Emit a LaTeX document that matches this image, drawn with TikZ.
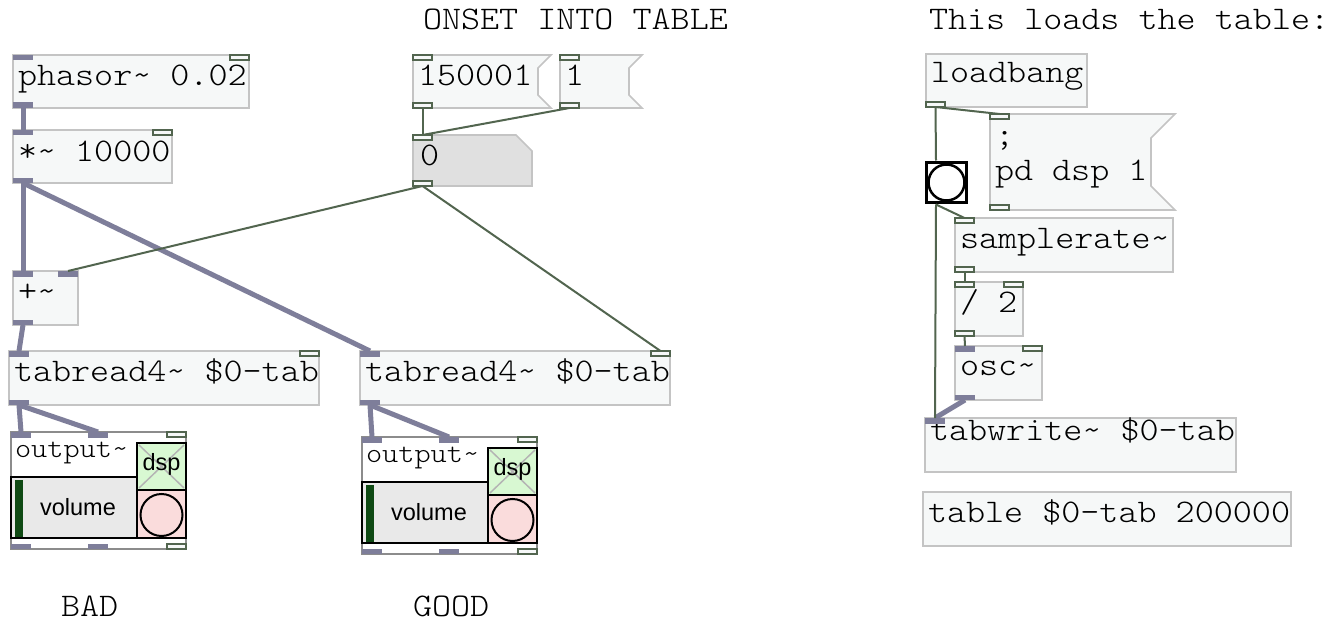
\documentclass[tikz,border=0pt]{standalone}
\usepackage{fontspec}
\setmainfont{Liberation Sans}
\newfontfamily\pdmono[FakeStretch=1.10]{Latin Modern Mono Light}
\newfontfamily\pdsans{Liberation Sans}
\newcommand\pdtxt{\pdmono\fontsize{33pt}{36pt}\selectfont}
\newcommand\pdsmall{\pdmono\fontsize{28pt}{30pt}\selectfont}
\newcommand\guitxt{\pdsans\fontsize{23.5pt}{26pt}\selectfont}
\newcommand\tld{\textasciitilde}

\definecolor{boxfill}{HTML}{F6F8F8}
\definecolor{boxline}{HTML}{C4C4C4}
\definecolor{sigc}{HTML}{7E7E9A}
\definecolor{ctlc}{HTML}{52654F}
\definecolor{numfill}{HTML}{E0E0E0}
\definecolor{dspgreen}{HTML}{D8F8D2}
\definecolor{dsppink}{HTML}{FADCDC}
\definecolor{volfill}{HTML}{E9E9E9}
\definecolor{volbar}{HTML}{0F4A14}
\definecolor{gopline}{HTML}{8C8C8C}
\definecolor{xline}{HTML}{B4B4B4}

% message box outline with the notched right edge
\newcommand\msgflag[2]{%
  \filldraw[msgline] (#1.north west) -- (#1.north east)
    -- ([xshift=-#2pt,yshift=-#2pt]#1.north east)
    -- ([xshift=-#2pt,yshift=#2pt]#1.south east)
    -- (#1.south east) -- (#1.south west) -- cycle;}

% output~ abstraction drawn as its graph-on-parent panel
\newcommand\outputgop[3]{%
  \node[slot, minimum width=175pt, minimum height=117pt] (#1) at (#2,#3) {};
  \begin{scope}[shift={(#2,#3)}]
    \draw[gopline, line width=1.6pt, fill=white] (0,0) rectangle (175,117);
    \node[pdlabel] (#1-t) at (4,25) {\pdsmall output\tld};
    \draw[black, line width=2pt, fill=volfill] (0,45) rectangle (126,106);
    \fill[volbar] (4,48) rectangle (12,105);
    \node[anchor=base, inner sep=0pt] (#1-vol) at (67,83) {\guitxt volume};
    \draw[black, line width=2pt, fill=dspgreen] (126,11) rectangle (175,58);
    \draw[xline, line width=1.5pt] (128,13) -- (173,56) (128,56) -- (173,13);
    \node[anchor=base, inner sep=0pt] (#1-dsp) at (150.5,38) {\guitxt dsp};
    \draw[black, line width=2pt, fill=dsppink] (126,58) rectangle (175,106);
    \node[draw=black, line width=2pt, circle, minimum size=42pt, inner sep=0pt] (#1-c) at (150.5,83) {};
  \end{scope}
  \node[sigport, anchor=north west] (#1-i0) at (#1.north west) {};
  \node[sigport, anchor=north west] (#1-i1) at ([xshift=77pt]#1.north west) {};
  \node[ctlport, anchor=north east] (#1-i2) at (#1.north east) {};
  \node[sigport, anchor=south west] (#1-o0) at (#1.south west) {};
  \node[sigport, anchor=south west] (#1-o1) at ([xshift=77pt]#1.south west) {};
  \node[ctlport, anchor=south east] (#1-o2) at (#1.south east) {};
}

\begin{document}
\begin{tikzpicture}[x=1pt, y=-1pt,
  slot/.style={rectangle, inner sep=0pt, outer sep=0pt, anchor=north west},
  obj/.style={slot, draw=boxline, fill=boxfill, line width=1.6pt},
  msgline/.style={draw=boxline, fill=boxfill, line width=1.6pt},
  numbox/.style={draw=boxline, fill=numfill, line width=1.6pt},
  sigport/.style={rectangle, fill=sigc, draw=none, inner sep=0pt, outer sep=0pt,
    minimum width=20pt, minimum height=5.5pt},
  ctlport/.style={rectangle, draw=ctlc, fill=boxfill, line width=1.6pt, inner sep=0pt,
    outer sep=0pt, minimum width=19pt, minimum height=5pt},
  sigwire/.style={draw=sigc, line width=5pt},
  ctlwire/.style={draw=ctlc, line width=2pt},
  pdlabel/.style={inner sep=0pt, outer sep=0pt, anchor=base west, font=\pdtxt},
  bangbox/.style={slot, draw=black, fill=white, line width=3.5pt},
]
\useasboundingbox (0,0) rectangle (1333,623);
\fill[white] (0,0) rectangle (1333,623);

% ---- comments
\node[pdlabel] (c-onset) at (423,30) {ONSET INTO TABLE};
\node[pdlabel] (c-load) at (929,30) {This loads the table:};
\node[pdlabel] (c-bad) at (61,616) {BAD};
\node[pdlabel] (c-good) at (413,616) {GOOD};

% ---- phasor~ 0.02
\node[obj, minimum width=236pt, minimum height=53pt] (phasor) at (13,55) {};
\node[pdlabel] (phasor-t) at (18,86) {phasor\tld{} 0.02};
\node[sigport, anchor=north west] (phasor-i0) at (phasor.north west) {};
\node[ctlport, anchor=north east] (phasor-i1) at (phasor.north east) {};
\node[sigport, anchor=south west] (phasor-o0) at (phasor.south west) {};

% ---- *~ 10000
\node[obj, minimum width=159pt, minimum height=53pt] (mul) at (13,130) {};
\node[pdlabel] (mul-t) at (18,161) {*\tld{} 10000};
\node[sigport, anchor=north west] (mul-i0) at (mul.north west) {};
\node[ctlport, anchor=north east] (mul-i1) at (mul.north east) {};
\node[sigport, anchor=south west] (mul-o0) at (mul.south west) {};

% ---- message 150001
\node[slot, minimum width=138pt, minimum height=53pt] (mA) at (413,55) {};
\msgflag{mA}{13}
\node[pdlabel] (mA-t) at (418,86) {150001};
\node[ctlport, anchor=north west] (mA-i0) at (mA.north west) {};
\node[ctlport, anchor=south west] (mA-o0) at (mA.south west) {};

% ---- message 1
\node[slot, minimum width=82pt, minimum height=53pt] (mB) at (560,55) {};
\msgflag{mB}{13}
\node[pdlabel] (mB-t) at (565,86) {1};
\node[ctlport, anchor=north west] (mB-i0) at (mB.north west) {};
\node[ctlport, anchor=south west] (mB-o0) at (mB.south west) {};

% ---- number box
\node[slot, minimum width=119pt, minimum height=51pt] (num) at (413,135) {};
\filldraw[numbox] (num.north west) -- ([xshift=-16pt]num.north east)
  -- ([yshift=-16pt]num.north east) -- (num.south east) -- (num.south west) -- cycle;
\node[pdlabel] (num-t) at (420,165) {0};
\node[ctlport, anchor=north west] (num-i0) at (num.north west) {};
\node[ctlport, anchor=south west] (num-o0) at (num.south west) {};

% ---- +~
\node[obj, minimum width=65pt, minimum height=54pt] (plus) at (13,271) {};
\node[pdlabel] (plus-t) at (18,301) {+\tld};
\node[sigport, anchor=north west] (plus-i0) at (plus.north west) {};
\node[sigport, anchor=north east] (plus-i1) at (plus.north east) {};
\node[sigport, anchor=south west] (plus-o0) at (plus.south west) {};

% ---- tabread4~ (left)
\node[obj, minimum width=310pt, minimum height=54pt] (tabL) at (9,351) {};
\node[pdlabel] (tabL-t) at (14,381) {tabread4\tld{} \$0-tab};
\node[sigport, anchor=north west] (tabL-i0) at (tabL.north west) {};
\node[ctlport, anchor=north east] (tabL-i1) at (tabL.north east) {};
\node[sigport, anchor=south west] (tabL-o0) at (tabL.south west) {};

% ---- tabread4~ (right)
\node[obj, minimum width=310pt, minimum height=54pt] (tabR) at (360,351) {};
\node[pdlabel] (tabR-t) at (365,381) {tabread4\tld{} \$0-tab};
\node[sigport, anchor=north west] (tabR-i0) at (tabR.north west) {};
\node[ctlport, anchor=north east] (tabR-i1) at (tabR.north east) {};
\node[sigport, anchor=south west] (tabR-o0) at (tabR.south west) {};

% ---- output~ panels
\outputgop{outL}{11}{432}
\outputgop{outR}{362}{437}

% ---- loadbang
\node[obj, minimum width=161pt, minimum height=53pt] (lb) at (926,54) {};
\node[pdlabel] (lb-t) at (931,83) {loadbang};
\node[ctlport, anchor=south west] (lb-o0) at (lb.south west) {};

% ---- message ; pd dsp 1
\node[slot, minimum width=185pt, minimum height=96pt] (dspmsg) at (990,114) {};
\msgflag{dspmsg}{24}
\node[pdlabel] (dspmsg-t1) at (995,146) {;};
\node[pdlabel] (dspmsg-t2) at (995,180) {pd dsp 1};
\node[ctlport, anchor=north west] (dspmsg-i0) at (dspmsg.north west) {};
\node[ctlport, anchor=south west] (dspmsg-o0) at (dspmsg.south west) {};

% ---- bang
\node[bangbox, minimum width=40pt, minimum height=40pt] (bang) at (926.5,162.5) {};
\node[draw=black, line width=2.5pt, circle, minimum size=36pt, inner sep=0pt] (bang-c) at (bang.center) {};
\coordinate (bang-i) at (936,160.5);
\coordinate (bang-o) at (936,204.5);

% ---- samplerate~
\node[obj, minimum width=218pt, minimum height=54pt] (sr) at (955,218) {};
\node[pdlabel] (sr-t) at (960,248) {samplerate\tld};
\node[ctlport, anchor=north west] (sr-i0) at (sr.north west) {};
\node[ctlport, anchor=south west] (sr-o0) at (sr.south west) {};

% ---- / 2
\node[obj, minimum width=68pt, minimum height=54pt] (div) at (955,282) {};
\node[pdlabel] (div-t) at (960,312) {/ 2};
\node[ctlport, anchor=north west] (div-i0) at (div.north west) {};
\node[ctlport, anchor=north east] (div-i1) at (div.north east) {};
\node[ctlport, anchor=south west] (div-o0) at (div.south west) {};

% ---- osc~
\node[obj, minimum width=87pt, minimum height=54pt] (osc) at (955,346) {};
\node[pdlabel] (osc-t) at (960,375) {osc\tld};
\node[sigport, anchor=north west] (osc-i0) at (osc.north west) {};
\node[ctlport, anchor=north east] (osc-i1) at (osc.north east) {};
\node[sigport, anchor=south west] (osc-o0) at (osc.south west) {};

% ---- tabwrite~
\node[obj, minimum width=311pt, minimum height=54pt] (tabw) at (925,418) {};
\node[pdlabel] (tabw-t) at (930,440) {tabwrite\tld{} \$0-tab};
\node[sigport, anchor=north west] (tabw-i0) at (tabw.north west) {};

% ---- table
\node[obj, minimum width=368pt, minimum height=54pt] (tbl) at (923,492) {};
\node[pdlabel] (tbl-t) at (928,522) {table \$0-tab 200000};

% ---- signal connections
\draw[sigwire] (phasor-o0.south) -- (mul-i0.north);
\draw[sigwire] (mul-o0.south) -- (plus-i0.north);
\draw[sigwire] (mul-o0.south) -- (tabR-i0.north);
\draw[sigwire] (plus-o0.south) -- (tabL-i0.north);
\draw[sigwire] (tabL-o0.south) -- (outL-i0.north);
\draw[sigwire] (tabL-o0.south) -- (outL-i1.north);
\draw[sigwire] (tabR-o0.south) -- (outR-i0.north);
\draw[sigwire] (tabR-o0.south) -- (outR-i1.north);
\draw[sigwire] (osc-o0.south) -- (tabw-i0.north);

% ---- control connections
\draw[ctlwire] (mA-o0.south) -- (num-i0.north);
\draw[ctlwire] (mB-o0.south) -- (num-i0.north);
\draw[ctlwire] (num-o0.south) -- (plus-i1.north);
\draw[ctlwire] (num-o0.south) -- (tabR-i1.north);
\draw[ctlwire] (lb-o0.south) -- (dspmsg-i0.north);
\draw[ctlwire] (lb-o0.south) -- (bang-i);
\draw[ctlwire] (bang-o) -- (sr-i0.north);
\draw[ctlwire] (bang-o) -- (tabw-i0.north);
\draw[ctlwire] (sr-o0.south) -- (div-i0.north);
\draw[ctlwire] (div-o0.south) -- (osc-i0.north);
\end{tikzpicture}
\end{document}
